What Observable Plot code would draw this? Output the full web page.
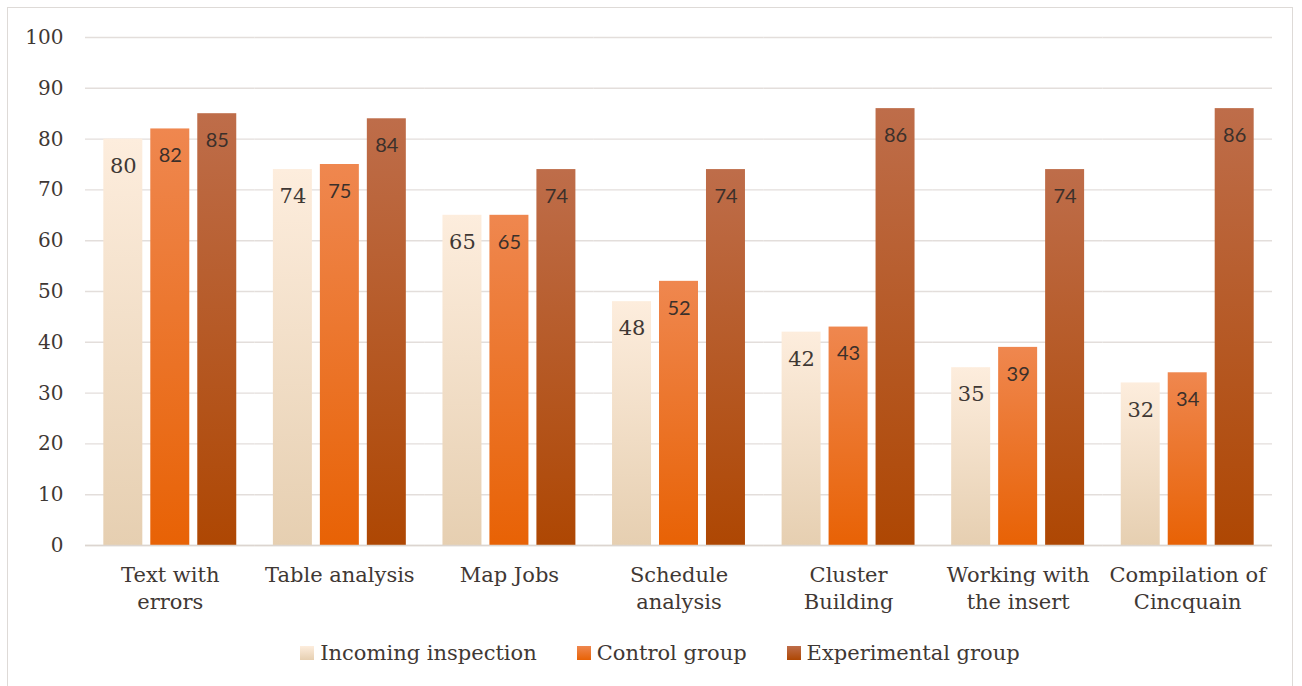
<!DOCTYPE html>
<html>
<head>
<meta charset="utf-8">
<script src="https://cdn.jsdelivr.net/npm/d3@7"></script>
<script src="https://cdn.jsdelivr.net/npm/@observablehq/plot@0.6"></script>
<style>
  html, body { margin: 0; padding: 0; background: #fff; }
  #wrap { position: relative; width: 1302px; height: 686px; overflow: hidden; }
  #frame { position: absolute; left: 7px; top: 7px; width: 1286px; height: 690px; border: 1.5px solid #dedad7; box-sizing: border-box; }
  #chart { position: absolute; left: 0; top: 0; }
  #legend { position: absolute; left: 0; top: 639px; width: 1302px; height: 28px; display: flex; justify-content: center; align-items: center; gap: 40px; font-family: "DejaVu Serif", serif; font-size: 21px; color: #3f3834; padding-left: 18px; box-sizing: border-box; }
  .item { display: flex; align-items: center; gap: 6px; }
  .sw { width: 14px; height: 14px; display: inline-block; }
</style>
</head>
<body>
<div id="wrap">
  <div id="frame"></div>
  <div id="chart"></div>
  <div id="legend"></div>
</div>
<script>
const categories = ["Text with errors", "Table analysis", "Map Jobs", "Schedule analysis", "Cluster Building", "Working with the insert", "Compilation of Cincquain"];
const categoryLabels = ["Text with\nerrors", "Table analysis", "Map Jobs", "Schedule\nanalysis", "Cluster\nBuilding", "Working with\nthe insert", "Compilation of\nCincquain"];
const seriesNames = ["Incoming inspection", "Control group", "Experimental group"];
const incoming = [80, 74, 65, 48, 42, 35, 32];
const control = [82, 75, 65, 52, 43, 39, 34];
const experimental = [85, 84, 74, 74, 86, 74, 86];
const yTicks = [0, 10, 20, 30, 40, 50, 60, 70, 80, 90, 100];

const gradients = [
  {id: "gInc", top: "#fdeddd", bottom: "#e6cfb1"},
  {id: "gCtl", top: "#ef874f", bottom: "#e86205"},
  {id: "gExp", top: "#be6d4a", bottom: "#ae4703"}
];

const seriesValues = [incoming, control, experimental];
const data = [];
categories.forEach((c, i) => {
  seriesNames.forEach((s, j) => data.push({category: c, series: s, value: seriesValues[j][i]}));
});
const labelMap = new Map(categories.map((c, i) => [c, categoryLabels[i]]));

const plot = Plot.plot({
  width: 1302,
  height: 620,
  marginLeft: 85,
  marginRight: 30,
  marginTop: 37,
  marginBottom: 75,
  style: {fontFamily: "DejaVu Serif, serif", fontSize: "20px", color: "#3f3834", background: "transparent"},
  fx: {domain: categories, padding: 0, round: false},
  x: {domain: seriesNames, paddingInner: 0.17, paddingOuter: 0.39, axis: null, round: false},
  y: {domain: [0, 100]},
  color: {domain: seriesNames, range: gradients.map(g => `url(#${g.id})`)},
  marks: [
    Plot.gridY(yTicks, {stroke: "#e3dedb", strokeOpacity: 1, strokeWidth: 1.4}),
    Plot.axisY({ticks: yTicks, tickSize: 0, tickPadding: 22, label: null, fontSize: 20, fill: "#3f3834"}),
    Plot.axisFx({anchor: "bottom", tickSize: 0, tickPadding: 17, label: null, fontSize: 21, lineHeight: 1.29, fill: "#3f3834", tickFormat: d => labelMap.get(d)}),
    Plot.barY(data, {fx: "category", x: "series", y: "value", fill: "series"}),
    Plot.ruleY([0], {stroke: "#dcd5d0", strokeWidth: 1.6}),
    Plot.text(data.filter(d => d.series === seriesNames[0]), {fx: "category", x: "series", y: "value", text: d => String(d.value), dy: 27, fontSize: 21, fontFamily: "DejaVu Serif, serif", fill: "#3f3834"}),
    Plot.text(data.filter(d => d.series !== seriesNames[0]), {fx: "category", x: "series", y: "value", text: d => String(d.value), dy: 27, fontSize: 20, fontFamily: "Lato, sans-serif", fill: "#3b302b"})
  ]
});

const defs = d3.select(plot).insert("defs", ":first-child");
gradients.forEach(g => {
  const lg = defs.append("linearGradient").attr("id", g.id).attr("x1", 0).attr("y1", 0).attr("x2", 0).attr("y2", 1);
  lg.append("stop").attr("offset", "0%").attr("stop-color", g.top);
  lg.append("stop").attr("offset", "100%").attr("stop-color", g.bottom);
});
document.getElementById("chart").appendChild(plot);

const legend = d3.select("#legend");
seriesNames.forEach((s, j) => {
  const it = legend.append("div").attr("class", "item");
  it.append("span").attr("class", "sw").style("background", `linear-gradient(${gradients[j].top}, ${gradients[j].bottom})`);
  it.append("span").text(s);
});
</script>
</body>
</html>
